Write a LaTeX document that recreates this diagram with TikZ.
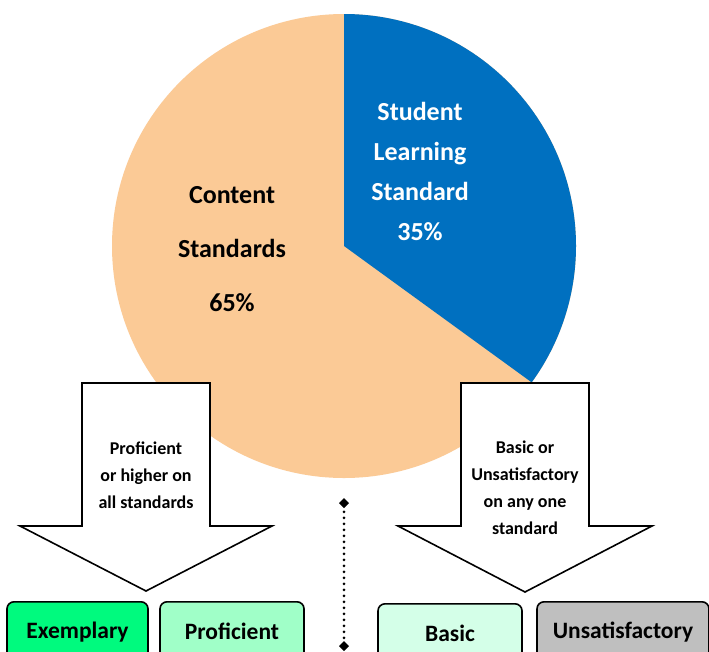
\documentclass[tikz,border=0pt]{standalone}
\usepackage{fontspec}
\setmainfont{Carlito}
\usetikzlibrary{arrows.meta}
\definecolor{peach}{RGB}{251,202,150}
\definecolor{slblue}{RGB}{0,112,192}
\definecolor{exgreen}{RGB}{0,250,126}
\definecolor{prgreen}{RGB}{160,255,200}
\definecolor{bagreen}{RGB}{212,255,232}
\definecolor{usgray}{RGB}{191,191,191}
\tikzset{
  level/.style={draw,line width=1.6pt,rounded corners=7pt,anchor=north,minimum height=60pt,
    font=\fontsize{23.5}{26}\selectfont\bfseries},
  bigarrow/.style={draw,line width=1.6pt,fill=white,line join=miter}
}
\begin{document}
\begin{tikzpicture}[x=1pt,y=1pt]
 \clip (0,0) rectangle (709,-651);
 \fill[white] (0,0) rectangle (709,-651);
	% pie
	\fill[peach] (344,-246) circle (232);
	\fill[slblue] (344,-246) -- (344,-14) arc[start angle=90,end angle=-36,radius=232] -- cycle;
	\node[align=center,font=\fontsize{26}{54}\selectfont\bfseries] (content) at (232,-249) {Content\\Standards\\65\%};
	\node[align=center,text=white,font=\fontsize{26}{40}\selectfont\bfseries] (slstd) at (420,-171) {Student\\Learning\\Standard\\35\%};
	% arrows
	\draw[bigarrow] (82,-383) -- (210,-383) -- (210,-526) -- (272,-526) -- (146,-591) -- (20,-526) -- (82,-526) -- cycle;
	\draw[bigarrow] (461,-383) -- (589,-383) -- (589,-526) -- (652,-526) -- (525,-592) -- (398,-526) -- (461,-526) -- cycle;
	\node[align=center,font=\fontsize{18}{27}\selectfont\bfseries] (good) at (146,-475) {Proficient\\or higher on\\all standards};
	\node[align=center,font=\fontsize{18}{27}\selectfont\bfseries] (weak) at (525,-488) {Basic or\\Unsatisfactory\\on any one\\standard};
	% divider
	\coordinate (dtop) at (344,-498);
	\coordinate (dbot) at (344,-651);
	\draw[line width=3pt,line cap=round,dash pattern=on 0pt off 6pt,{Diamond[length=10pt,width=10pt]}-{Diamond[length=10pt,width=10pt]}] (dtop) -- (dbot);
	% levels
	\node[level,fill=exgreen,minimum width=141pt] (exemplary) at (77.5,-601) {Exemplary};
	\node[level,fill=prgreen,minimum width=144pt] (proficient) at (232,-601) {Proficient};
	\node[level,fill=bagreen,minimum width=144pt] (basic) at (450,-603) {Basic};
	\node[level,fill=usgray,minimum width=172pt] (unsat) at (623,-601) {Unsatisfactory};
\end{tikzpicture}
\end{document}
